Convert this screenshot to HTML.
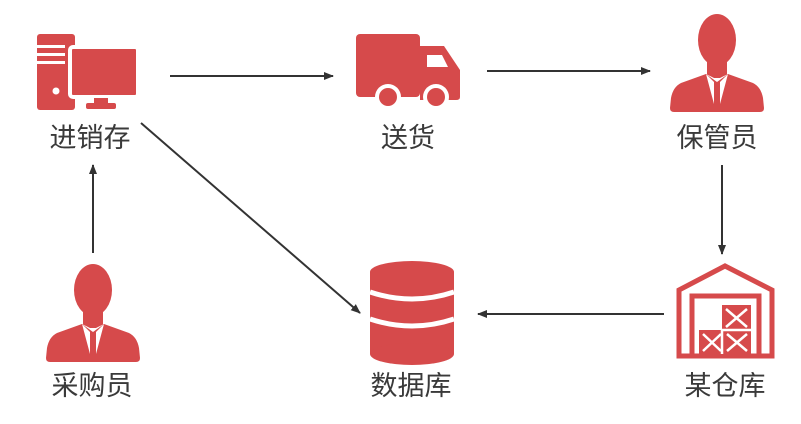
<!DOCTYPE html>
<html><head><meta charset="utf-8"><style>
html,body{margin:0;padding:0;background:#fff;}
svg{display:block}
text{font-family:"Liberation Sans","Noto Sans CJK SC",sans-serif;font-size:27px;fill:#3a3a3a;text-anchor:middle}
</style></head><body>
<svg width="801" height="424" viewBox="0 0 801 424" xmlns="http://www.w3.org/2000/svg">
<defs>
<marker id="a" markerWidth="10" markerHeight="8" refX="9" refY="4" orient="auto" markerUnits="userSpaceOnUse">
<path d="M0,0 L10,4 L0,8 Z" fill="#333"/></marker>
<g id="person">
<ellipse cx="0" cy="-72" rx="19" ry="26" fill="#d64a4b"/>
<rect x="-10" y="-52" width="20" height="16" fill="#d64a4b"/>
<path d="M-11,-38 L-36,-29 Q-44,-25 -46,-14 L-47,-4 Q-47,0 -43,0 L43,0 Q47,0 47,-4 L46,-14 Q44,-25 36,-29 L11,-38 Z" fill="#d64a4b"/>
<path d="M-11,-38 L-3,-8 L-3,-30 Z M11,-38 L3,-8 L3,-30 Z" fill="#fff"/>
<path d="M-11,-38 L0,-30 L11,-38 L3,-34 L-3,-34 Z" fill="#fff"/>
</g>
</defs>

<g fill="#d64a4b">
<rect x="37" y="34" width="38" height="76" rx="3"/>
<rect x="70" y="47" width="68" height="50" rx="3" stroke="#fff" stroke-width="4"/>
<rect x="94" y="98" width="14" height="6"/>
<rect x="86" y="103" width="30" height="6" rx="2"/>
</g>
<g fill="#fff"><rect x="37" y="45" width="28" height="3"/><rect x="37" y="53" width="28" height="3"/><rect x="37" y="61" width="28" height="3"/><circle cx="56" cy="91" r="3.5"/></g>
<text x="90" y="147">进销存</text>

<g fill="#d64a4b">
<rect x="356" y="34" width="64" height="63" rx="4"/>
<path d="M420,46 L444,46 L460,70 L460,97 Q460,100 456,100 L420,100 Z"/>
</g>
<path d="M427,55 L442,55 L448,67 L427,67 Z" fill="#fff"/>
<circle cx="388" cy="97" r="13" fill="#fff"/><circle cx="388" cy="97" r="9" fill="#d64a4b"/>
<circle cx="436" cy="97" r="13" fill="#fff"/><circle cx="436" cy="97" r="9" fill="#d64a4b"/>
<text x="408" y="147">送货</text>

<use href="#person" x="717" y="112"/>
<text x="717" y="147">保管员</text>

<use href="#person" x="93" y="362"/>
<text x="92" y="395">采购员</text>

<g fill="#d64a4b">
<ellipse cx="412" cy="272" rx="42" ry="11"/>
<rect x="370" y="272" width="84" height="82"/>
<ellipse cx="412" cy="354" rx="42" ry="11"/>
</g>
<path d="M370,292 Q412,306 454,292" stroke="#fff" stroke-width="5" fill="none"/>
<path d="M370,319 Q412,333 454,319" stroke="#fff" stroke-width="5" fill="none"/>
<text x="411" y="395">数据库</text>

<g fill="none" stroke="#d64a4b" stroke-width="5">
<path d="M679,356 L679,290 L725,266 L772,290 L772,356 Z"/>
<path d="M692,356 L692,296 L759,296 L759,356"/>
</g>
<g fill="#d64a4b">
<rect x="722" y="305" width="29" height="49"/>
<rect x="699" y="330" width="52" height="24"/>
</g>
<g stroke="#fff" stroke-width="2.5" fill="none">
<path d="M726,309 L747,327 M747,309 L726,327 M703,334 L721,351 M721,334 L703,351 M727,334 L747,351 M747,334 L727,351"/>
<path d="M722,330 L751,330 M722,330 L722,354"/>
</g>
<text x="725" y="395">某仓库</text>

<g stroke="#333" stroke-width="2" fill="none">
<line x1="170" y1="76" x2="333" y2="76" marker-end="url(#a)"/>
<line x1="487" y1="71" x2="650" y2="71" marker-end="url(#a)"/>
<line x1="722" y1="165" x2="722" y2="254" marker-end="url(#a)"/>
<line x1="664" y1="314" x2="478" y2="314" marker-end="url(#a)"/>
<line x1="93" y1="253" x2="93" y2="165" marker-end="url(#a)"/>
<line x1="141" y1="123" x2="360" y2="313" marker-end="url(#a)"/>
</g>
</svg>
</body></html>
